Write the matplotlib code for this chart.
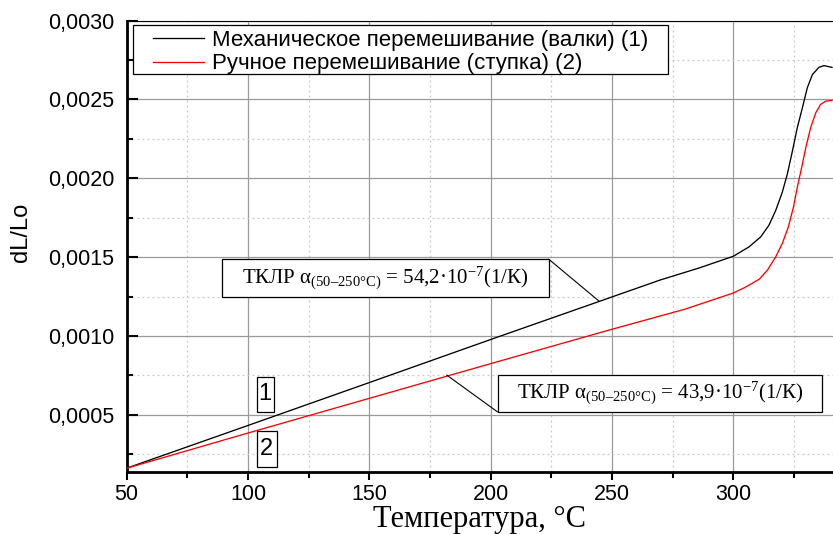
import numpy as np
import matplotlib
matplotlib.use("Agg")
import matplotlib.pyplot as plt
from matplotlib.patches import Rectangle
from matplotlib.ticker import MultipleLocator, FuncFormatter

# dilatometry curves, temperature in degC vs relative elongation dL/Lo
temp_mech = [50, 100, 150, 200, 250, 270, 286, 300, 306.4, 311.2, 314.6, 317.4,
             320.1, 322.2, 324.3, 326.3, 328.4, 330.4, 332.5, 335.2, 337.3, 340.6]
dl_mech = [0.000162, 0.000433, 0.000705, 0.000978, 0.001248, 0.001356, 0.001432,
           0.001506, 0.001565, 0.001628, 0.001702, 0.001796, 0.001911, 0.002027,
           0.002174, 0.002321, 0.002447, 0.002573, 0.002657, 0.002703, 0.002714,
           0.002703]

temp_hand = [50, 100, 150, 200, 250, 280, 300, 305, 310.6, 314, 317.4, 320.1,
             322.6, 324.7, 326.3, 328.1, 329.8, 331.8, 333.9, 335.9, 338, 340.6]
dl_hand = [0.000162, 0.000385, 0.000605, 0.000825, 0.001043, 0.00117, 0.001273,
           0.00131, 0.00136, 0.001418, 0.001502, 0.001586, 0.001691, 0.001817,
           0.001943, 0.002069, 0.002195, 0.002321, 0.002415, 0.002468, 0.002489,
           0.002493]

series_labels = ["Механическое перемешивание (валки) (1)",
                 "Ручное перемешивание (ступка) (2)"]
note_mech = r"ТКЛР $\mathrm{α}_{\mathrm{(50–250°C)}}$ = 54,2·10$^{\mathrm{-7}}$(1/К)"
note_hand = r"ТКЛР $\mathrm{α}_{\mathrm{(50–250°C)}}$ = 43,9·10$^{\mathrm{-7}}$(1/К)"

plt.rcParams["mathtext.fontset"] = "custom"
plt.rcParams["mathtext.rm"] = "Liberation Serif"
plt.rcParams["mathtext.it"] = "Liberation Serif:italic"
plt.rcParams["font.family"] = ["Liberation Sans", "DejaVu Sans"]

fig = plt.figure(figsize=(8.33, 5.34), dpi=100)
ax = fig.add_axes([0.152, 0.1167, 0.848, 0.8449])

ax.plot(temp_mech, dl_mech, color="black", lw=0.95, label=series_labels[0], zorder=3)
ax.plot(temp_hand, dl_hand, color="red", lw=0.95, label=series_labels[1], zorder=3)

ax.set_xlim(50, 341)
ax.set_ylim(0.00014, 0.0030)

ax.xaxis.set_major_locator(MultipleLocator(50))
ax.xaxis.set_minor_locator(MultipleLocator(25))
ax.yaxis.set_major_locator(MultipleLocator(0.0005))
ax.yaxis.set_minor_locator(MultipleLocator(0.00025))
ax.yaxis.set_major_formatter(FuncFormatter(
    lambda v, p: ("%.4f" % v).replace(".", ",") if v >= 0.0004 else ""))

ax.grid(which="major", color="#9a9a9a", lw=0.9, ls="-")
ax.grid(which="minor", color="#c8c8c8", lw=0.9, ls=(0, (1.5, 2.5)))
ax.set_axisbelow(True)

ax.tick_params(axis="y", which="major", direction="in", length=8, width=1.5,
               labelsize=15.5, pad=9)
ax.tick_params(axis="y", which="minor", direction="in", length=4, width=1.5)
ax.tick_params(axis="x", which="major", direction="out", length=6, width=1.5,
               labelsize=15.5, pad=3)
ax.tick_params(axis="x", which="minor", direction="out", length=4, width=1.5)

ax.spines["left"].set_linewidth(2)
ax.spines["bottom"].set_linewidth(2)
ax.spines["top"].set_linewidth(0.8)
ax.spines["right"].set_visible(False)

ax.set_ylabel("dL/Lo", fontsize=17)
ax.yaxis.set_label_coords(-0.134, 0.531)
ax.set_xlabel("Температура, °С", fontsize=22, family="Liberation Serif", labelpad=0)

# legend with a hand-drawn square frame
ax.add_patch(Rectangle((0.009, 0.8816), 0.7574, 0.1084, transform=ax.transAxes,
                       facecolor="white", edgecolor="black", lw=0.9, zorder=4))
leg = ax.legend(loc="upper left", bbox_to_anchor=(0.0375, 0.980), fontsize=16,
                frameon=False, handlelength=2.3, handletextpad=0.37,
                labelspacing=0.13, borderpad=0, borderaxespad=0)
leg.set_zorder(5)

# rate annotations with leader lines
ax.add_patch(Rectangle((89.5, 0.001246), 223.9 - 89.5, 0.001487 - 0.001246,
                       facecolor="white", edgecolor="black", lw=0.9, zorder=4))
ax.text(156.7, 0.001366, note_mech, fontsize=15, family="Liberation Serif",
        ha="center", va="center", zorder=5)
ax.plot([223.9, 244.7], [0.001487, 0.00122], color="black", lw=0.8, zorder=4)

ax.add_patch(Rectangle((202.8, 0.000519), 336.5 - 202.8, 0.000754 - 0.000519,
                       facecolor="white", edgecolor="black", lw=0.9, zorder=4))
ax.text(269.7, 0.000636, note_hand, fontsize=15, family="Liberation Serif",
        ha="center", va="center", zorder=5)
ax.plot([202.8, 181.9], [0.000519, 0.000752], color="black", lw=0.8, zorder=4)

# curve number tags
for num, (x0, x1, y0, y1) in zip(["1", "2"], [(103.6, 110.6, 0.000521, 0.000743),
                                             (103.6, 111.8, 0.000170, 0.000398)]):
    ax.add_patch(Rectangle((x0, y0), x1 - x0, y1 - y0, facecolor="white",
                           edgecolor="black", lw=0.9, zorder=4))
    ax.text((x0 + x1) / 2, (y0 + y1) / 2, num, fontsize=17, ha="center",
            va="center", zorder=5)

fig.savefig("out.png", dpi=100)
